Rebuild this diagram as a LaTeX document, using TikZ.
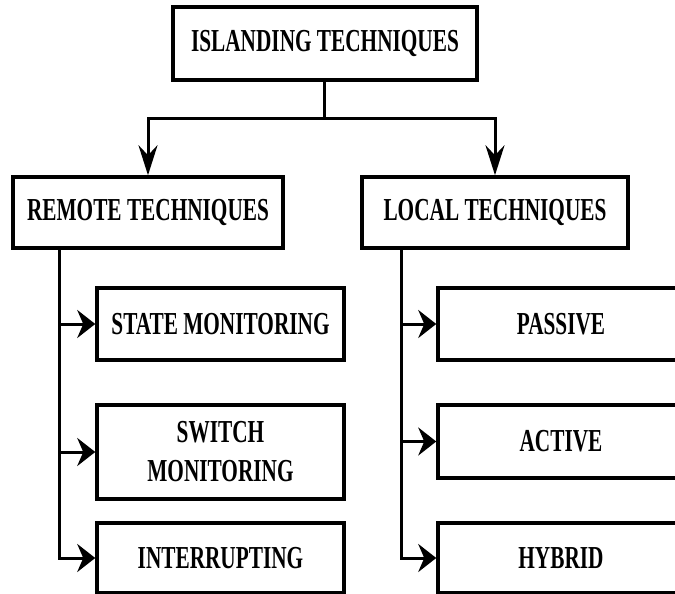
\documentclass[tikz,border=0pt]{standalone}
\usepackage{fontspec}
\newfontfamily\lblfont{Liberation Serif}[FakeStretch=0.665]
\usetikzlibrary{arrows.meta}
\begin{document}
\begin{tikzpicture}[x=1pt,y=-1pt,
  box/.style={draw=black, line width=3.5pt, fill=white, inner sep=0pt, align=center,
    font=\lblfont\bfseries\fontsize{32}{39}\selectfont},
  conn/.style={line width=3pt},
  varrow/.style={conn, -{Stealth[length=30pt,width=19pt,inset=10pt]}},
  harrow/.style={conn, -{Stealth[length=18pt,width=28pt,inset=6pt]}}]
\clip (0,0) rectangle (675,594);
\fill[white] (0,0) rectangle (675,594);
% nodes
\node[box, minimum width=304pt, minimum height=73pt] (top) at (325,43.5) {ISLANDING TECHNIQUES};
\node[box, minimum width=270pt, minimum height=71pt] (remote) at (148,212.5) {REMOTE TECHNIQUES};
\node[box, minimum width=266pt, minimum height=71pt] (local) at (495,212.5) {LOCAL TECHNIQUES};
\node[box, minimum width=247pt, minimum height=72pt] (sm) at (220.5,324) {STATE MONITORING};
\node[box, minimum width=247pt, minimum height=94pt] (sw) at (220.5,452) {SWITCH\\MONITORING};
\node[box, minimum width=247pt, minimum height=70pt] (ir) at (220.5,558) {INTERRUPTING};
\node[box, minimum width=246pt, minimum height=72pt] (pa) at (561,324) {PASSIVE};
\node[box, minimum width=246pt, minimum height=73pt] (ac) at (561,441.5) {ACTIVE};
\node[box, minimum width=246pt, minimum height=70pt] (hy) at (561,558) {HYBRID};
% connectors
\coordinate (j) at (324,118);
\draw[conn] (top.south -| j) -- (j);
\draw[varrow] (j) -| (remote.north);
\draw[varrow] (j) -| (local.north);
\coordinate (rl) at (59,248);
\coordinate (ll) at (401,248);
\draw[harrow] (rl) |- (sm.west);
\draw[harrow] (rl) |- (sw.west);
\draw[harrow] (rl) |- (ir.west);
\draw[harrow] (ll) |- (pa.west);
\draw[harrow] (ll) |- (ac.west);
\draw[harrow] (ll) |- (hy.west);
\end{tikzpicture}
\end{document}
